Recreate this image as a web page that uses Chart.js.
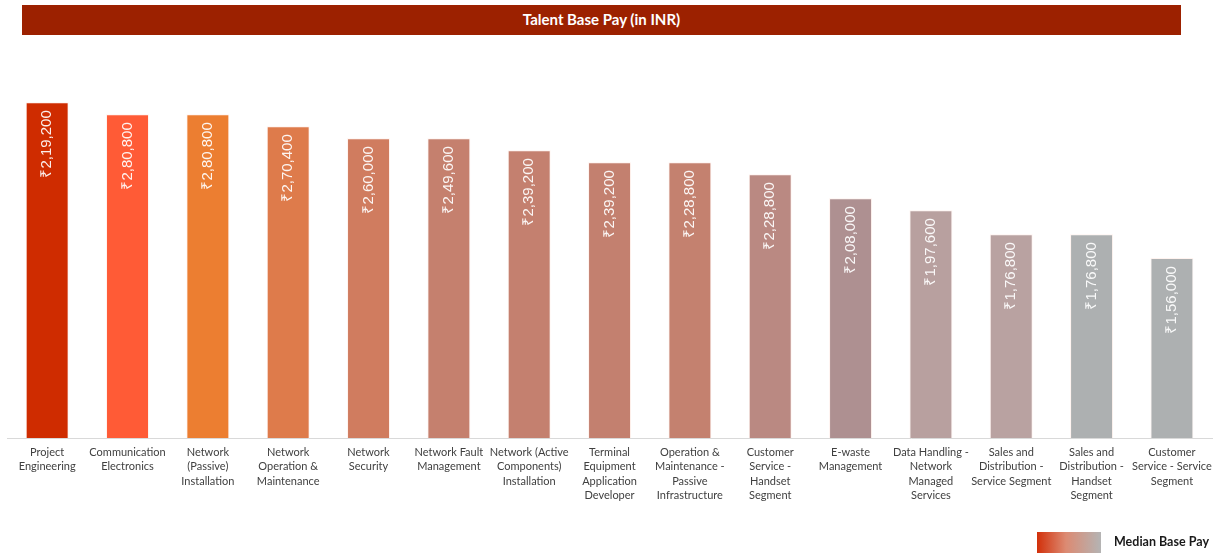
<!DOCTYPE html>
<html>
<head>
<meta charset="utf-8">
<script src="https://cdn.jsdelivr.net/npm/chart.js@4"></script>
<style>
  html, body { margin: 0; padding: 0; background: #fff; }
  #wrap { position: relative; width: 1219px; height: 553px; overflow: hidden; }
  #banner {
    position: absolute; left: 22px; top: 5px; width: 1159px; height: 30px;
    background: #9c2100; color: #fff; font: 700 15px Lato, sans-serif;
    text-align: center; line-height: 29px; z-index: 2;
  }
  #legend { position: absolute; left: 1037px; top: 532px; height: 21px; z-index: 2; }
  #legend .sw {
    position: absolute; left: 0; top: 0; width: 64px; height: 21px;
    background: linear-gradient(to right, #d2300a, #dc8a72 45%, #b4b4b4);
  }
  #legend .tx {
    position: absolute; left: 77px; top: 2px; line-height: 21px; white-space: nowrap;
    font: 700 12.5px Lato, sans-serif; color: #1a1a1a;
  }
  #c { position: absolute; left: 0; top: 0; }
</style>
</head>
<body>
<div id="wrap">
  <div id="banner">Talent Base Pay (in INR)</div>
  <canvas id="c" width="1219" height="553"></canvas>
  <div id="legend"><div class="sw"></div><div class="tx">Median Base Pay</div></div>
</div>
<script>
// categories (wrapped as in the source)
const categories = [
  ['Project', 'Engineering'],
  ['Communication', 'Electronics'],
  ['Network', '(Passive)', 'Installation'],
  ['Network', 'Operation &', 'Maintenance'],
  ['Network', 'Security'],
  ['Network Fault', 'Management'],
  ['Network (Active', 'Components)', 'Installation'],
  ['Terminal', 'Equipment', 'Application', 'Developer'],
  ['Operation &', 'Maintenance -', 'Passive', 'Infrastructure'],
  ['Customer', 'Service -', 'Handset', 'Segment'],
  ['E-waste', 'Management'],
  ['Data Handling -', 'Network', 'Managed', 'Services'],
  ['Sales and', 'Distribution -', 'Service Segment'],
  ['Sales and', 'Distribution -', 'Handset', 'Segment'],
  ['Customer', 'Service - Service', 'Segment']
];

// bar heights as drawn
const medianPay = [291200, 280800, 280800, 270400, 260000, 260000, 249600, 239200,
  239200, 228800, 208000, 197600, 176800, 176800, 156000];

// value labels as printed on the bars
const payLabels = ['₹2,19,200', '₹2,80,800', '₹2,80,800', '₹2,70,400', '₹2,60,000',
  '₹2,49,600', '₹2,39,200', '₹2,39,200', '₹2,28,800', '₹2,28,800', '₹2,08,000',
  '₹1,97,600', '₹1,76,800', '₹1,76,800', '₹1,56,000'];

const barColors = ['#cf2c00', '#ff5b36', '#ec7e31', '#de7b4b', '#d07c5f', '#c5806e',
  '#c4806f', '#c3806f', '#c4816f', '#ba8982', '#ae9091', '#b8a09f', '#b9a2a1',
  '#adb0b1', '#adb0b1'];

const valueLabels = {
  id: 'valueLabels',
  afterDatasetsDraw(chart) {
    const { ctx } = chart;
    const meta = chart.getDatasetMeta(0);
    ctx.save();
    ctx.font = '15px "Liberation Sans", Arial, sans-serif';
    ctx.fillStyle = 'rgba(255,255,255,0.92)';
    ctx.textAlign = 'right';
    ctx.textBaseline = 'middle';
    meta.data.forEach((bar, i) => {
      ctx.save();
      ctx.translate(bar.x, bar.y + 8);
      ctx.rotate(-Math.PI / 2);
      ctx.fillText(payLabels[i], 0, 0);
      ctx.restore();
    });
    ctx.restore();
  }
};

new Chart(document.getElementById('c'), {
  type: 'bar',
  data: {
    labels: categories,
    datasets: [{
      label: 'Median Base Pay',
      data: medianPay,
      backgroundColor: barColors,
      borderColor: 'rgba(255,235,228,0.6)',
      borderWidth: 1,
      barPercentage: 0.535,
      categoryPercentage: 1
    }]
  },
  options: {
    responsive: false,
    animation: false,
    layout: { padding: { top: 69, bottom: 43, left: 7, right: 6 } },
    scales: {
      y: { display: false, min: 0, max: 320000 },
      x: {
        grid: { display: false, drawTicks: false },
        border: { color: '#d9d9d9', width: 1 },
        ticks: {
          color: '#404040',
          padding: 7,
          maxRotation: 0,
          autoSkip: false,
          font: { family: 'Lato, sans-serif', size: 11, lineHeight: '14.5px' }
        }
      }
    },
    plugins: { legend: { display: false }, tooltip: { enabled: false } }
  },
  plugins: [valueLabels]
});
</script>
</body>
</html>
